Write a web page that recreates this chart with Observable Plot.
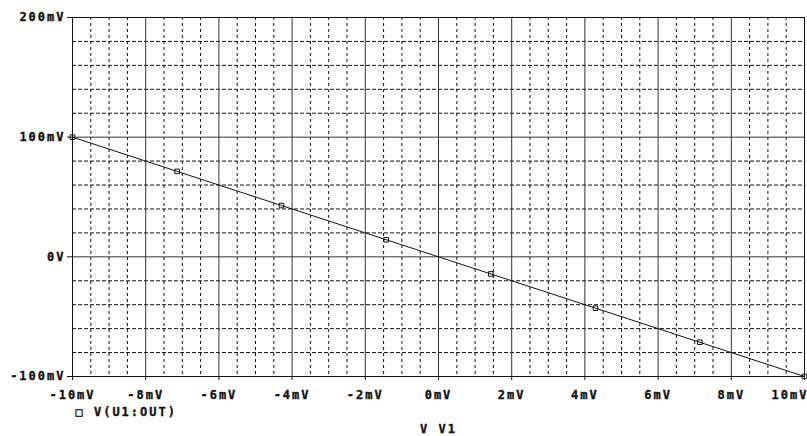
<!DOCTYPE html>
<html><head>
<meta charset="utf-8">
<script src="https://cdn.jsdelivr.net/npm/d3@7"></script>
<script src="https://cdn.jsdelivr.net/npm/@observablehq/plot@0.6"></script>
<style>
body{margin:0;background:#fff;}
svg text{stroke:#111;stroke-width:0.35px;}
</style>
</head><body>
<div id="chart"></div>
<script>
// Data (PSpice DC sweep of V1)
const inputMv  = [-10, -7.14, -4.29, -1.43, 1.43, 4.29, 7.14, 10];
const outputMv = [100, 71.4, 42.9, 14.3, -14.3, -42.9, -71.4, -100];

const xTicks = [-10, -8, -6, -4, -2, 0, 2, 4, 6, 8, 10];
const xTickLabels = ["-10mV","-8mV","-6mV","-4mV","-2mV","0mV","2mV","4mV","6mV","8mV","10mV"];
const yTicks = [-100, 0, 100, 200];
const yTickLabels = ["-100mV","0V","100mV","200mV"];
const xMinor = [-9.5,-9,-8.5,-7.5,-7,-6.5,-5.5,-5,-4.5,-3.5,-3,-2.5,-1.5,-1,-0.5,0.5,1,1.5,2.5,3,3.5,4.5,5,5.5,6.5,7,7.5,8.5,9,9.5];
const yMinor = [-80,-60,-40,-20,20,40,60,80,120,140,160,180];
const seriesName = "V(U1:OUT)";
const xTitle = "V V1";

const data = inputMv.map((x, i) => ({x, y: outputMv[i]}));
const lastTick = xTicks[xTicks.length - 1];
const fmtX = d => xTickLabels[xTicks.indexOf(d)];

const chart = Plot.plot({
  width: 807,
  height: 436,
  marginLeft: 72,
  marginRight: 3,
  marginTop: 17,
  marginBottom: 60,
  style: {fontFamily: "DejaVu Sans Mono", fontSize: "12px", fontWeight: "bold", letterSpacing: "2px", color: "#111", background: "#fff"},
  x: {domain: [-10, 10]},
  y: {domain: [-100, 200]},
  marks: [
    Plot.ruleX(xMinor, {stroke: "#111", strokeWidth: 1, strokeDasharray: "3,3"}),
    Plot.ruleY(yMinor, {stroke: "#111", strokeWidth: 1, strokeDasharray: "4,2"}),
    Plot.ruleX(xTicks, {stroke: "#333", strokeWidth: 1}),
    Plot.ruleY(yTicks, {stroke: "#333", strokeWidth: 1}),
    Plot.frame({stroke: "#111"}),
    Plot.axisX({ticks: xTicks, tickFormat: d => d === lastTick ? "" : fmtX(d), tickSize: 4, tickPadding: 10,
      label: xTitle, labelAnchor: "center", labelArrow: "none", labelOffset: 56}),
    Plot.axisX({ticks: [lastTick], tickFormat: fmtX, tickSize: 0, tickPadding: 14, textAnchor: "end", dx: 4, label: null}),
    Plot.axisY({ticks: yTicks, tickFormat: d => yTickLabels[yTicks.indexOf(d)], tickSize: 5, tickPadding: 2, label: null}),
    Plot.line(data, {x: "x", y: "y", stroke: "#111", strokeWidth: 1}),
    Plot.dot(data, {x: "x", y: "y", symbol: "square", r: 2.6, stroke: "#111", fill: "none", strokeWidth: 1}),
    Plot.text(["\u25A1 " + seriesName], {frameAnchor: "bottom-left", dx: 3, dy: 36, textAnchor: "start", lineAnchor: "middle"})
  ]
});
document.getElementById("chart").appendChild(chart);
</script>
</body></html>
